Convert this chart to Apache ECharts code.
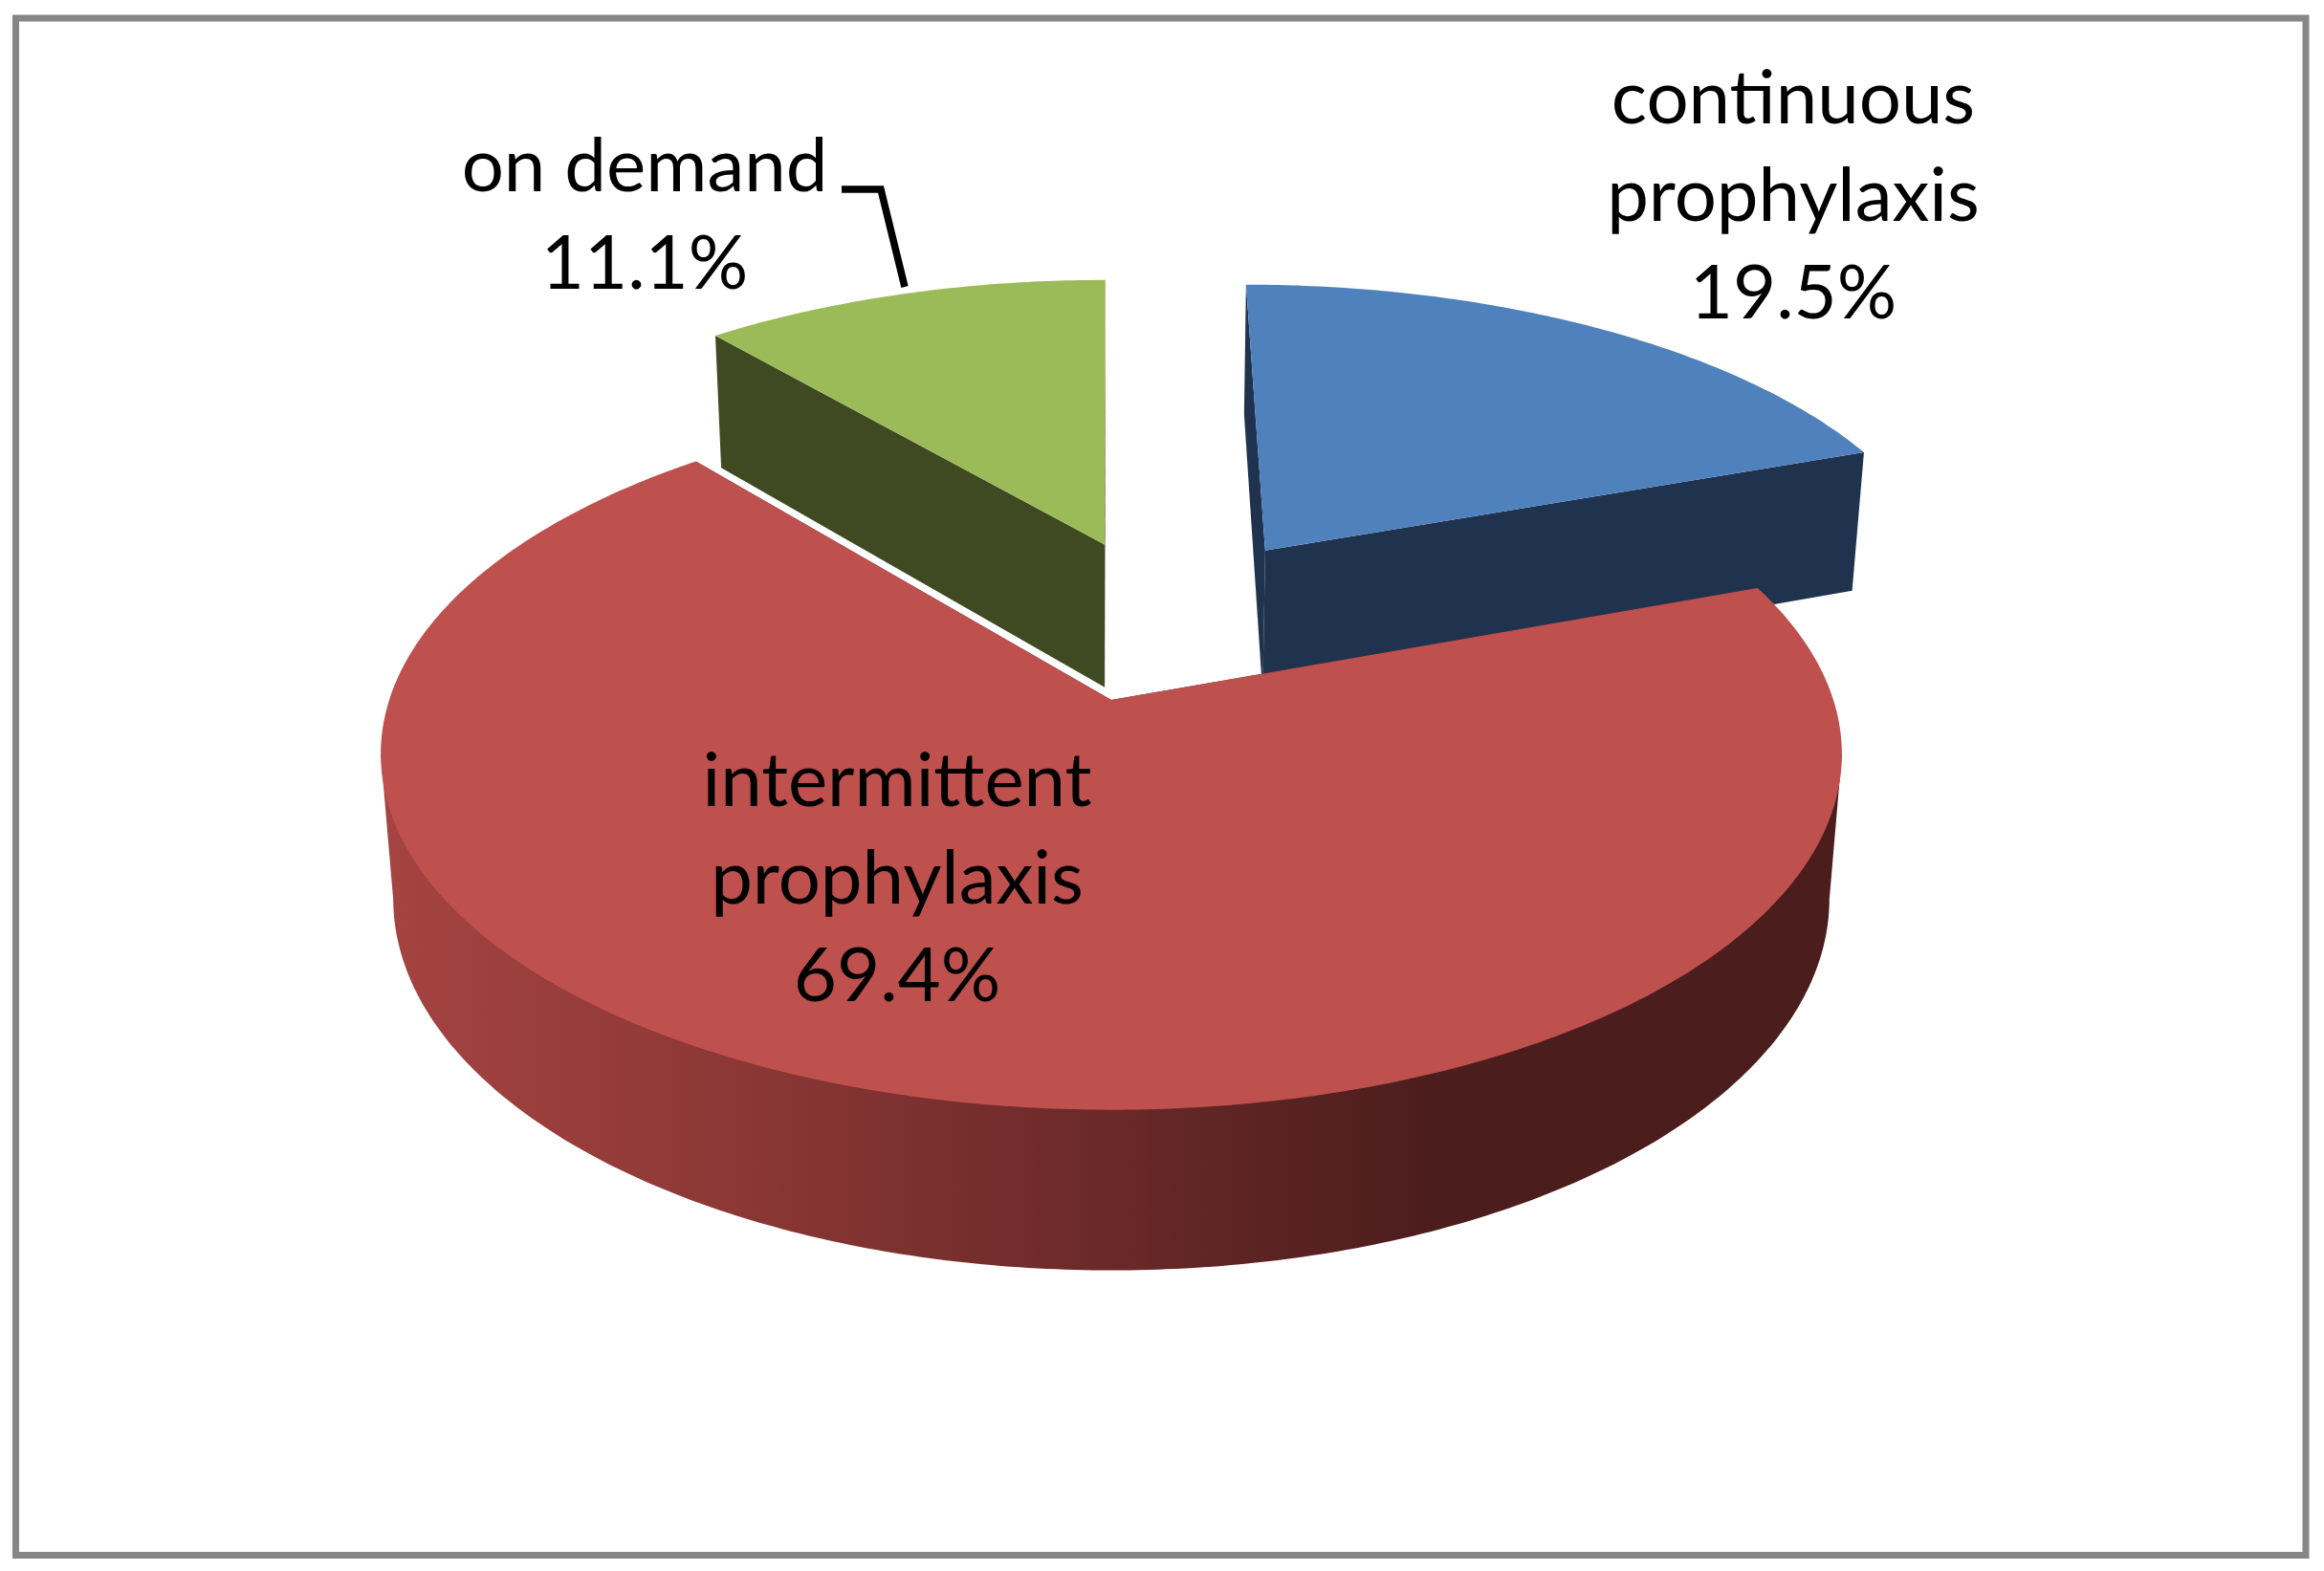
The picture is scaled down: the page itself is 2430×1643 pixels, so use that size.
<!DOCTYPE html>
<html>
<head>
<meta charset="utf-8">
<title>Prophylaxis regimens</title>
<script src="https://cdn.jsdelivr.net/npm/echarts@6/dist/echarts.min.js"></script>
<style>
  html, body { margin: 0; padding: 0; background: #fff; }
  #chart { width: 2430px; height: 1643px; }
</style>
</head>
<body>
<div id="chart"></div>
<script>
// chart data
const categories = ['continuous\nprophylaxis', 'intermittent\nprophylaxis', 'on demand']
const shares = [19.5, 69.4, 11.1]

// look of each slice, same order as categories
const topColors = ['#4F81BD', '#BE504E', '#9BBB59']
const wallColors = ['#1F334F', null, '#3F4A22']
const explode = [[0.228, 0.46], [0, 0], [-0.01, 0.48]]
const wallDepth = [1.05, 1, 1.05]
const drawOrder = [0, 2, 1]
const labelAnchors = [[1875, 206], [938, 920], [674, 226]]

// perspective of the tilted pie, in pixels
const apexX = 1162
const apexY = 732
const radiusX = 755
const radiusY = 363.5
const depth = 152.5
const tiltPersp = 0.152
const depthPersp = 0.017

function project(x, y, z) {
  const w = 1 + tiltPersp * y + depthPersp * z
  return [apexX + radiusX * x / w, apexY + (-radiusY * y + depth * z) / w]
}

function rimPoint(off, a, z) {
  return project(off[0] + Math.sin(a), off[1] + Math.cos(a), z)
}

function rimPoints(off, from, to, z) {
  const pts = []
  const steps = Math.max(2, Math.ceil((to - from) * 90))
  for (let i = 0; i <= steps; i++) {
    pts.push(rimPoint(off, from + (to - from) * i / steps, z))
  }
  return pts
}

function poly(points, fill, z2) {
  return { type: 'polygon', z2, shape: { points }, style: { fill, stroke: null } }
}

function renderSlice(params, api) {
  const i = api.value(0)
  const total = shares.reduce((a, b) => a + b, 0)
  const before = shares.slice(0, i).reduce((a, b) => a + b, 0)
  const from = before / total * Math.PI * 2
  const to = (before + api.value(1)) / total * Math.PI * 2
  const off = explode[i]
  const low = wallDepth[i]
  const z2 = drawOrder.indexOf(i) * 10

  const topRim = rimPoints(off, from, to, 0)
  const bottomRim = rimPoints(off, from, to, low)
  const apexTop = project(off[0], off[1], 0)
  const apexBottom = project(off[0], off[1], low)
  const sideFill = wallColors[i] || '#4C1D1D'

  const children = [
    poly([apexTop, topRim[0], bottomRim[0], apexBottom], sideFill, z2 + 1),
    poly([apexTop, topRim[topRim.length - 1], bottomRim[bottomRim.length - 1], apexBottom], sideFill, z2 + 1),
    poly([apexTop].concat(topRim), topColors[i], z2 + 2),
    {
      type: 'text',
      z2: 100,
      style: {
        text: categories[i] + '\n' + api.value(1).toFixed(1) + '%',
        x: labelAnchors[i][0],
        y: labelAnchors[i][1],
        fill: '#000',
        font: '78px Lato',
        lineHeight: 102,
        align: 'center',
        verticalAlign: 'middle'
      }
    }
  ]

  // outer wall only shows on the part of the rim that faces the viewer
  const edge = Math.acos(-tiltPersp)
  const wallFrom = Math.max(from, edge)
  const wallTo = Math.min(to, Math.PI * 2 - edge)
  if (wallTo > wallFrom) {
    const wallFill = wallColors[i] || new echarts.graphic.LinearGradient(0, 0, 1, 0, [
      { offset: 0, color: '#A54441' },
      { offset: 0.25, color: '#8B3735' },
      { offset: 0.72, color: '#4C1D1D' },
      { offset: 1, color: '#4C1D1D' }
    ])
    const wall = [rimPoint(off, wallFrom, 0)]
      .concat(rimPoints(off, wallFrom, wallTo, low))
      .concat([rimPoint(off, wallTo, 0)])
    children.unshift(poly(wall, wallFill, z2))
  }
  return { type: 'group', children }
}

const chart = echarts.init(document.getElementById('chart'), null, { renderer: 'canvas' })
chart.setOption({
  backgroundColor: '#fff',
  animation: false,
  graphic: [
    {
      type: 'rect',
      shape: { x: 16.5, y: 19, width: 2394.5, height: 1607.5 },
      style: { fill: null, stroke: '#868686', lineWidth: 7 }
    },
    {
      type: 'polyline',
      z: 5,
      shape: { points: [[880, 198], [921, 198], [946, 300]] },
      style: { fill: null, stroke: '#000', lineWidth: 7.5 }
    }
  ],
  series: [
    {
      type: 'custom',
      coordinateSystem: 'none',
      renderItem: renderSlice,
      data: shares.map((v, i) => [i, v])
    }
  ]
})
</script>
</body>
</html>
